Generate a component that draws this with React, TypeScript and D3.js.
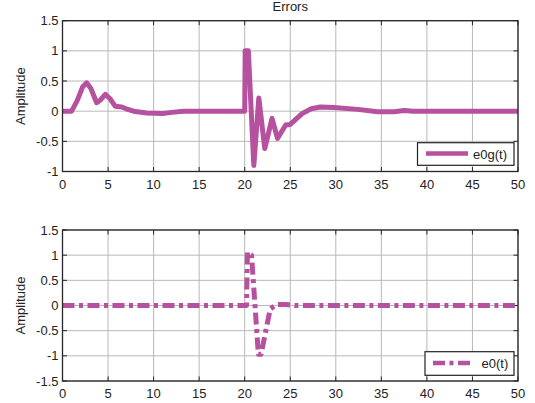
import React from "react";
import * as d3 from "d3";

const xTicks = [0, 5, 10, 15, 20, 25, 30, 35, 40, 45, 50];
const yTicksTop = [-1, -0.5, 0, 0.5, 1, 1.5];
const yTicksBottom = [-1.5, -1, -0.5, 0, 0.5, 1, 1.5];

const e0gT = [0, 1, 1.6, 2.2, 2.65, 3.1, 3.75, 4.2, 4.7, 5.2, 5.8, 6.5, 7, 7.8, 9.25, 11, 12, 13.3, 20, 20.05, 20.4, 21.0, 21.55, 22.2, 23.0, 23.6, 24.5, 25, 26.3, 27.3, 28.3, 29.8, 32.4, 34.6, 36.4, 37.5, 38.5, 50];
const e0gV = [0, 0, 0.17, 0.4, 0.47, 0.38, 0.14, 0.19, 0.28, 0.21, 0.08, 0.07, 0.04, 0, -0.03, -0.04, -0.02, 0, 0, 1.0, 1.0, -0.9, 0.22, -0.62, -0.12, -0.45, -0.23, -0.22, -0.04, 0.04, 0.07, 0.06, 0.03, -0.01, -0.01, 0.01, 0, 0];

const e0T = [0, 20.2, 20.3, 20.75, 21.5, 21.8, 22.8, 23.5, 24.5, 25.5, 50];
const e0V = [0, 0, 1.06, 1.0, -0.97, -0.97, -0.07, 0.02, 0.02, 0, 0];

const COLOR = "#b5519e";
const FONT = "'Liberation Sans', Arial, sans-serif";

type PanelProps = {
  top: number;
  bottom: number;
  yDomain: [number, number];
  yTicks: number[];
  xs: number[];
  ys: number[];
  dash?: string;
  legend: { x0: number; x1: number; y0: number; y1: number; lx0: number; lx1: number; ly: number; tx: number; ty: number; label: string };
};

const LEFT = 62.5;
const RIGHT = 518;

function Panel({ top, bottom, yDomain, yTicks, xs, ys, dash, legend }: PanelProps) {
  const x = d3.scaleLinear().domain([0, 50]).range([LEFT, RIGHT]);
  const y = d3.scaleLinear().domain(yDomain).range([bottom, top]);
  const data = xs.map((t, i) => [t, ys[i]] as [number, number]);
  const line = d3
    .line<[number, number]>()
    .x((d) => x(d[0]))
    .y((d) => y(d[1]));
  const tl = 4.5;
  const tickColor = "#262626";
  return (
    <g>
      <rect x={LEFT} y={top} width={RIGHT - LEFT} height={bottom - top} fill="white" />
      {xTicks.map((t) => (
        <line key={"gx" + t} x1={x(t)} x2={x(t)} y1={top} y2={bottom} stroke="#b8b8b8" strokeWidth={1} />
      ))}
      {yTicks.map((t) => (
        <line key={"gy" + t} x1={LEFT} x2={RIGHT} y1={y(t)} y2={y(t)} stroke="#b8b8b8" strokeWidth={1} />
      ))}
      {xTicks.map((t) => (
        <g key={"tx" + t}>
          <line x1={x(t)} x2={x(t)} y1={bottom} y2={bottom - tl} stroke={tickColor} />
          <line x1={x(t)} x2={x(t)} y1={top} y2={top + tl} stroke={tickColor} />
          <text x={x(t)} y={bottom + 17} textAnchor="middle" fontSize={13} fontFamily={FONT} fill="#222">
            {t}
          </text>
        </g>
      ))}
      {yTicks.map((t) => (
        <g key={"ty" + t}>
          <line x1={LEFT} x2={LEFT + tl} y1={y(t)} y2={y(t)} stroke={tickColor} />
          <line x1={RIGHT} x2={RIGHT - tl} y1={y(t)} y2={y(t)} stroke={tickColor} />
          <text x={LEFT - 4} y={y(t)} dy="0.35em" textAnchor="end" fontSize={13} fontFamily={FONT} fill="#222">
            {t}
          </text>
        </g>
      ))}
      <path
        d={line(data) || ""}
        fill="none"
        stroke={COLOR}
        strokeWidth={5}
        strokeLinejoin="round"
        strokeDasharray={dash}
      />
      <rect x={LEFT} y={top} width={RIGHT - LEFT} height={bottom - top} fill="none" stroke="#262626" strokeWidth={1.3} />
      <text
        transform={`translate(25,${(top + bottom) / 2}) rotate(-90)`}
        textAnchor="middle"
        fontSize={13}
        fontFamily={FONT}
        fill="#222"
      >
        Amplitude
      </text>
      <rect
        x={legend.x0}
        y={legend.y0}
        width={legend.x1 - legend.x0}
        height={legend.y1 - legend.y0}
        fill="white"
        stroke="#222"
        strokeWidth={1.2}
      />
      <line
        x1={legend.lx0}
        x2={legend.lx1}
        y1={legend.ly}
        y2={legend.ly}
        stroke={COLOR}
        strokeWidth={4.5}
        strokeDasharray={dash}
      />
      <text x={legend.tx} y={legend.ty} fontSize={13} fontFamily={FONT} fill="#222">
        {legend.label}
      </text>
    </g>
  );
}

export default function App() {
  return (
    <svg
      width={535}
      height={403}
      style={{ position: "absolute", left: 0, top: 0, background: "white" }}
    >
      <rect x={0} y={0} width={535} height={403} fill="white" />
      <text x={(LEFT + RIGHT) / 2} y={11} textAnchor="middle" fontSize={13} fontFamily={FONT} fill="#222">
        Errors
      </text>
      <Panel
        top={20.7}
        bottom={171.5}
        yDomain={[-1, 1.5]}
        yTicks={yTicksTop}
        xs={e0gT}
        ys={e0gV}
        legend={{ x0: 417.5, x1: 514, y0: 142.7, y1: 165.3, lx0: 426, lx1: 468, ly: 153.5, tx: 473, ty: 158.5, label: "e0g(t)" }}
      />
      <Panel
        top={230}
        bottom={381}
        yDomain={[-1.5, 1.5]}
        yTicks={yTicksBottom}
        xs={e0T}
        ys={e0V}
        dash="12,4.5,4,4.5"
        legend={{ x0: 425, x1: 514, y0: 351.7, y1: 375.3, lx0: 433, lx1: 472, ly: 363, tx: 481.5, ty: 367.5, label: "e0(t)" }}
      />
    </svg>
  );
}
